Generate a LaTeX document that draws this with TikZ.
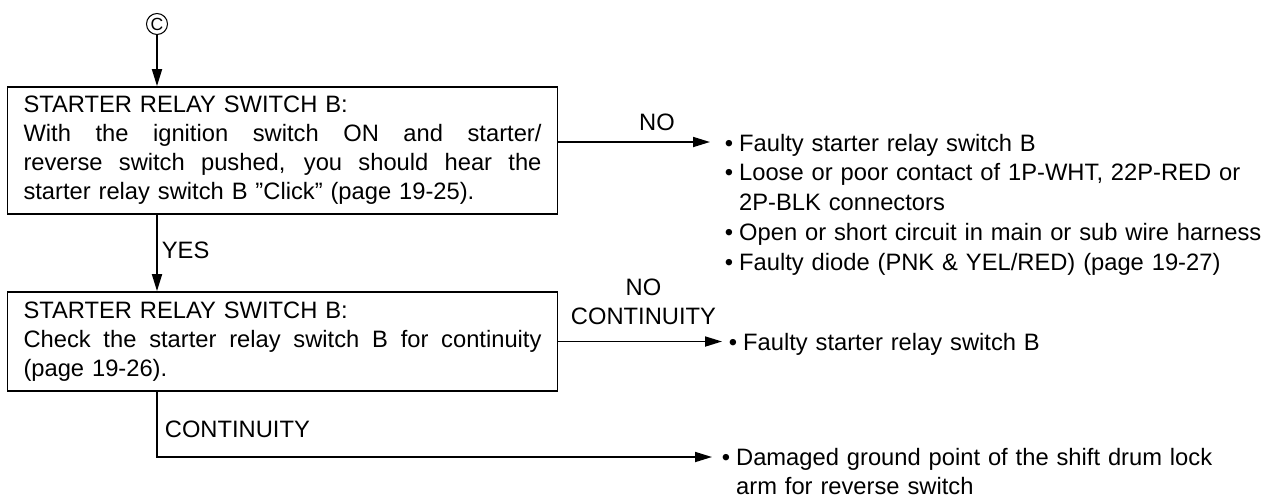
\documentclass[tikz,border=0pt]{standalone}
\usepackage{fontspec}
\setmainfont{Liberation Sans}[WordSpace=1.2]
\usetikzlibrary{arrows.meta}

\begin{document}
\begin{tikzpicture}[line width=1pt, >={Triangle[length=0.34cm,width=0.2cm]},
  font=\fontsize{13.5}{16.5}\selectfont,
  box/.style={draw, text width=10.36cm, inner xsep=0.32cm, inner ysep=0pt, align=justify},
  res/.style={anchor=base west, inner sep=0pt, font=\fontsize{13.5}{17}\selectfont}]
\useasboundingbox (0,0) rectangle (25.34,-9.98);

% checks
\node[draw, circle, inner sep=0pt, minimum size=0.42cm, line width=0.6pt, font=\fontsize{10}{10}\selectfont] (c) at (3.14,-0.48) {C};
\node[box, minimum height=2.54cm] (sw1) at (5.65,-3.01) {STARTER RELAY SWITCH B:\newline
With the ignition switch ON and starter/\linebreak
reverse switch pushed, you should hear the\linebreak
starter relay switch B ''Click'' (page 19-25).};
\node[box, minimum height=1.98cm] (sw2) at (5.65,-6.83) {STARTER RELAY SWITCH B:\newline
Check the starter relay switch B for continuity\linebreak
(page 19-26).};

% results
\node[res] (res1) at (14.48,-3.02) {\begin{tabular}[t]{@{}l@{\hspace{0.12cm}}l@{}}
\textbullet & Faulty starter relay switch B\\
\textbullet & Loose or poor contact of 1P-WHT, 22P-RED or\\
 & 2P-BLK connectors\\
\textbullet & Open or short circuit in main or sub wire harness\\
\textbullet & Faulty diode (PNK \& YEL/RED) (page 19-27)
\end{tabular}};
\node[res] (res2) at (14.56,-7.0) {\begin{tabular}[t]{@{}l@{\hspace{0.12cm}}l@{}}
\textbullet & Faulty starter relay switch B
\end{tabular}};
\node[res] (res3) at (14.42,-9.3) {\begin{tabular}[t]{@{}l@{\hspace{0.12cm}}l@{}}
\textbullet & Damaged ground point of the shift drum lock\\
 & arm for reverse switch
\end{tabular}};

\coordinate (t1) at (14.20,-2.84);
\coordinate (t2) at (14.44,-6.83);
\coordinate (t3) at (14.24,-9.14);

% connectors
\draw[->] (c) -- (c |- sw1.north);
\draw[->] (sw1.east |- t1) -- node[pos=0.65, above=0.21cm, inner sep=0pt] {NO} (t1);
\draw[->] (sw1.south -| c) -- node[pos=0.46, right=0.08cm, inner sep=0pt] {YES} (sw2.north -| c);
\draw[->] (sw2.east |- t2) -- node[pos=0.52, above=0.32cm, inner sep=0pt, align=center] {NO\\CONTINUITY} (t2);
\draw[->] (sw2.south -| c) |- node[pos=0.29, right=0.14cm, inner sep=0pt] {CONTINUITY} (t3);
\end{tikzpicture}
\end{document}
